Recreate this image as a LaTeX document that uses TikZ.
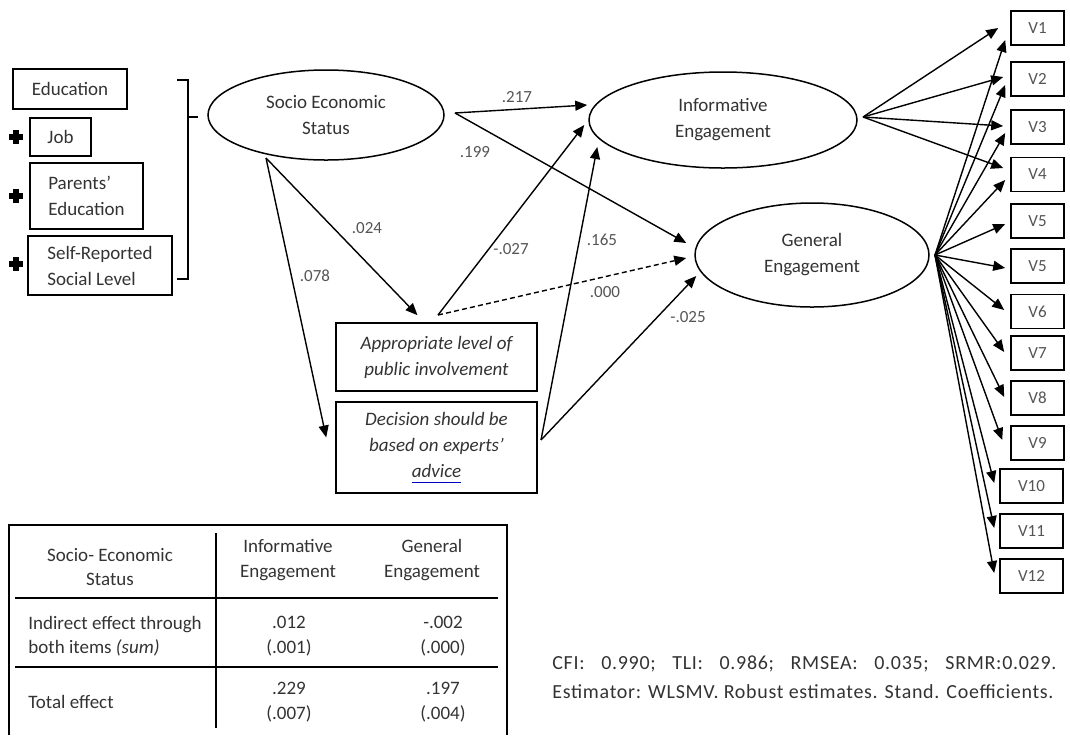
\documentclass[tikz,border=0pt]{standalone}
\usepackage{fontspec}
\setmainfont{Carlito}
\usetikzlibrary{arrows.meta,shapes.geometric,calc}
\definecolor{txt}{HTML}{333333}
\definecolor{lbl}{HTML}{555555}
% word with a thin blue underline
\newcommand\blueunder[1]{{\setbox0\hbox{#1}\rlap{\color{blue!75!black}\rule[-2.4pt]{\wd0}{0.45pt}}\box0}}

\begin{document}
\begin{tikzpicture}[x=0.5pt,y=-0.5pt,
  base/.style={text=txt, font=\fontsize{9.5}{13}\selectfont},
  box/.style={base, draw, line width=0.8pt, inner sep=0pt, align=left},
  ibox/.style={box, align=center, font=\fontsize{9.5}{13}\selectfont\itshape},
  latent/.style={base, draw, ellipse, line width=0.75pt, inner sep=0pt, align=center},
  vbox/.style={draw, line width=0.8pt, inner sep=0pt, text=lbl,
    font=\fontsize{8.5}{10}\selectfont, minimum height=17pt},
  coef/.style={text=lbl, font=\fontsize{8.5}{10}\selectfont, inner sep=0pt},
  cell/.style={base, inner sep=0pt, align=center, font=\fontsize{9.5}{12.3}\selectfont},
  note/.style={text=txt, font=\fontsize{10}{13}\selectfont\addfontfeature{LetterSpace=3.5},
    anchor=west, inner sep=0pt},
  effect/.style={line width=0.7pt, -{Triangle[length=6pt,width=5pt]}},
  rule/.style={line width=0.8pt},
  plussign/.style={line width=2.6pt},
  ]
\useasboundingbox (0,0) rectangle (1070,735);

% ---- indicators of socio-economic status
\node[box, minimum width=57pt, minimum height=20pt, align=center] (edu) at (70,89) {Education};
\node[box, minimum width=30.5pt, minimum height=19pt, align=center] (job) at (60.5,137) {Job};
\node[box, minimum width=56.5pt, minimum height=33pt] (par) at (86.5,196) {Parents’\\Education};
\node[box, minimum width=72pt, minimum height=29.5pt] (srl) at (100,265.5) {Self-Reported\\Social Level};
\foreach \py in {137,196,264}
  \draw[plussign] (9,\py) -- (23,\py) (16,\py-7) -- (16,\py+7);
% bracket grouping the indicators
\draw[rule] (177,80) -- (188,80) -- (188,279) -- (177,279);
\draw[line width=1.3pt] (188,117) -- (198,117);

% ---- latent variables
\node[latent, minimum width=118pt, minimum height=45pt] (ses) at (326,115) {Socio Economic\\Status};
\node[latent, minimum width=134pt, minimum height=48pt] (ie) at (723,120) {Informative\\Engagement};
\node[latent, minimum width=117pt, minimum height=52pt] (ge) at (812,255) {General\\Engagement};

% ---- mediating items
\node[ibox, minimum width=100.5pt, minimum height=34pt] (ap) at (436.5,357) {Appropriate level of\\public involvement};
\node[ibox, minimum width=100.5pt, minimum height=45.5pt] (dc) at (436.5,447.5) {Decision should be\\based on experts’\\\blueunder{advice}};

% ---- observed items
\foreach \n/\lab/\vy in {v1/V1/28, v2/V2/79, v3/V3/127, v4/V4/174.5, v5/V5/221,
                         v5b/V5/266, v6/V6/311.5, v7/V7/353, v8/V8/398, v9/V9/443}
  \node[vbox, minimum width=26.5pt] (\n) at (1037.5,\vy) {\lab};
\foreach \n/\lab/\vy in {v10/V10/486, v11/V11/531, v12/V12/576}
  \node[vbox, minimum width=31.5pt] (\n) at (1031.5,\vy) {\lab};

% ---- path starting points
\coordinate (sesR) at (455,113);
\coordinate (sesB) at (266,158);
\coordinate (apT) at (438,315);
\coordinate (dcR) at (541,440);
\coordinate (ieR) at (863,117);
\coordinate (geR) at (935,255);

% ---- structural paths
\draw[effect] (sesR) -- ([shift={(-1,-15)}]ie.west);
\draw[effect] (sesR) -- ([shift={(-8,-12)}]ge.west);
\draw[effect] (sesB) -- ([shift={(-19,-7)}]ap.north);
\draw[effect] (sesB) -- ([shift={(-9,-10)}]dc.west);
\draw[effect] (apT) -- ([shift={(-4,5)}]ie.west);
\draw[effect, dash pattern=on 2.5pt off 1.6pt] (apT) -- ([shift={(-8,3)}]ge.west);
\draw[effect] (dcR) -- ([shift={(9,27)}]ie.west);
\draw[effect] (dcR) -- ([shift={(2,21)}]ge.west);

% ---- coefficients
\node[coef] (c217) at (517,97) {.217};
\node[coef] (c199) at (475,152) {.199};
\node[coef] (c024) at (367,228) {.024};
\node[coef] (c078) at (315,276) {.078};
\node[coef] (c027) at (511,249) {-.027};
\node[coef] (c165) at (602,240) {.165};
\node[coef] (c000) at (605,292) {.000};
\node[coef] (c025) at (688,317) {-.025};

% ---- measurement paths
\draw[effect] (ieR) -- ([shift={(-12,0)}]v1.west);
\draw[effect] (ieR) -- ([shift={(-7,-2)}]v2.west);
\draw[effect] (ieR) -- ([shift={(-7,-1)}]v3.west);
\draw[effect] (ieR) -- ([shift={(-7,-6.5)}]v4.west);
\foreach \n/\dx/\dy in {v1/-5/12, v2/-5/6, v3/-5/6, v4/-5/5.5, v5/-5/3, v5b/-5/2,
                        v6/-6/-1.5, v7/-6/-1, v8/-6/-1, v9/-8/-3,
                        v10/-5/-3, v11/-5/-3, v12/-5/-3}
  \draw[effect] (geR) -- ([shift={(\dx,\dy)}]\n.west);

% ---- effects table
\draw[rule] (9,735) -- (9,525) -- (507,525) -- (507,735);
\draw[rule] (216,533) -- (216,728);
\draw[rule] (15,598) -- (498,598);
\draw[rule] (15,667) -- (498,667);
\node[cell] (h1) at (110,567) {Socio- Economic\\Status};
\node[cell] (h2) at (288,560) {Informative\\Engagement};
\node[cell] (h3) at (432,560) {General\\Engagement};
\node[cell, anchor=west, align=left] (r1) at (28,636) {Indirect effect through\\both items \textit{(sum)}};
\node[cell] (r1a) at (289,636) {.012\\(.001)};
\node[cell] (r1b) at (443,636) {-.002\\(.000)};
\node[cell, anchor=west, align=left] (r2) at (28,702) {Total effect};
\node[cell] (r2a) at (289,702) {.229\\(.007)};
\node[cell] (r2b) at (443,702) {.197\\(.004)};

% ---- fit indices
\node[note] (fit) at (552,664)
  {\hbox to 252pt{CFI:\hfill 0.990;\hfill TLI:\hfill 0.986;\hfill RMSEA:\hfill 0.035;\hfill SRMR:0.029.}};
\node[note] (est) at (552,692)
  {Estimator: WLSMV. Robust estimates. Stand. Coefficients.};
\end{tikzpicture}
\end{document}
